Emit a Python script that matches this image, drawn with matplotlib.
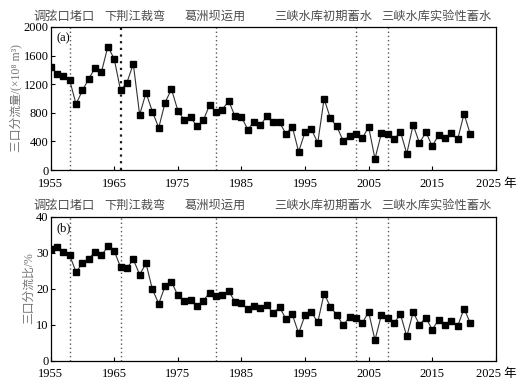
import matplotlib
matplotlib.use('Agg')
import matplotlib.pyplot as plt

# years of record
years = list(range(1955, 2022))

# three-outlet diverted flow (10^8 m^3)
flow = [1442, 1349, 1316, 1256, 921, 1112, 1274, 1428, 1372, 1725,
        1553, 1112, 1223, 1483, 772, 1079, 818, 591, 944, 1130,
        832, 702, 744, 609, 693, 911, 809, 846, 967, 749,
        744, 567, 674, 623, 758, 665, 665, 507, 605, 256,
        530, 572, 381, 995, 721, 609, 409, 479, 498, 442,
        605, 158, 512, 507, 428, 539, 228, 632, 377, 530,
        335, 488, 442, 516, 428, 786, 498]

# diversion ratio (%)
ratio = [31.1, 31.6, 30.1, 29.2, 24.6, 27.0, 28.3, 30.2, 29.2, 31.7,
         30.5, 25.9, 25.7, 28.1, 23.9, 27.0, 19.8, 15.8, 20.7, 21.9,
         18.1, 16.6, 16.7, 15.1, 16.6, 18.9, 18.0, 18.1, 19.3, 16.3,
         15.9, 14.3, 15.2, 14.6, 15.4, 13.2, 14.9, 11.5, 12.8, 7.6,
         12.6, 13.5, 10.6, 18.6, 14.9, 12.7, 9.8, 12.1, 11.8, 10.4,
         13.5, 5.7, 12.6, 11.9, 10.4, 12.9, 6.7, 13.4, 10.0, 11.9,
         8.6, 11.3, 10.0, 11.0, 9.6, 14.4, 10.4]

# events
event_years = [1958, 1966, 1981, 2003, 2008]
event_names = ['调弦口堵口', '下荆江裁弯', '葛洲坝运用', '三峡水库初期蓄水', '三峡水库实验性蓄水']
event_label_x = [1952.3, 1963.4, 1976.0, 1990.2, 2007.0]

xticks = [1955, 1965, 1975, 1985, 1995, 2005, 2015, 2025]
xticklabels = ['1955', '1965', '1975', '1985', '1995', '2005', '2015', '2025 年']

fam = ['Liberation Serif', 'Noto Sans CJK SC', 'DejaVu Sans']
plt.rcParams['font.family'] = fam

fig = plt.figure(figsize=(5.3, 3.84), dpi=100)
ax1 = fig.add_axes([0.0955, 0.557, 0.84, 0.373])
ax2 = fig.add_axes([0.0955, 0.061, 0.84, 0.375])

panels = [(ax1, flow, (0, 2000), [0, 400, 800, 1200, 1600, 2000],
           '三口分流量/(×10⁸ m³)', '(a)'),
          (ax2, ratio, (0, 40), [0, 10, 20, 30, 40],
           '三口分流比/%', '(b)')]

for ax, vals, ylim, yt, ylab, tag in panels:
    for ey in event_years:
        lw = 1.0
        col = '0.35'
        if ax is ax1 and ey == 1966:
            lw = 1.6
            col = '0.1'
        ax.axvline(ey, color=col, linestyle=(0, (1, 2)), linewidth=lw, zorder=1)
    ax.plot(years, vals, color='0.2', linewidth=0.8, marker='s',
            markersize=3.8, markerfacecolor='black', markeredgecolor='black', zorder=3)
    ax.set_xlim(1955, 2025)
    ax.set_ylim(*ylim)
    ax.set_yticks(yt)
    ax.set_xticks(xticks)
    ax.set_xticklabels(xticklabels)
    ax.tick_params(direction='in', length=3, labelsize=9, colors='black')
    ax.tick_params(axis='y', pad=1.5)
    ax.tick_params(axis='x', pad=5.5)
    ax.set_ylabel(ylab, fontsize=8.5, color='0.45', labelpad=1)
    ax.text(0.013, 0.96, tag, transform=ax.transAxes, fontsize=9,
            va='top', ha='left')
    for name, lx in zip(event_names, event_label_x):
        ax.text(lx, 1.03, name, transform=ax.get_xaxis_transform(),
                fontsize=8.8, color='0.3', ha='left', va='bottom',
                clip_on=False)
    for s in ax.spines.values():
        s.set_linewidth(0.9)

fig.savefig('out.png', dpi=100)
